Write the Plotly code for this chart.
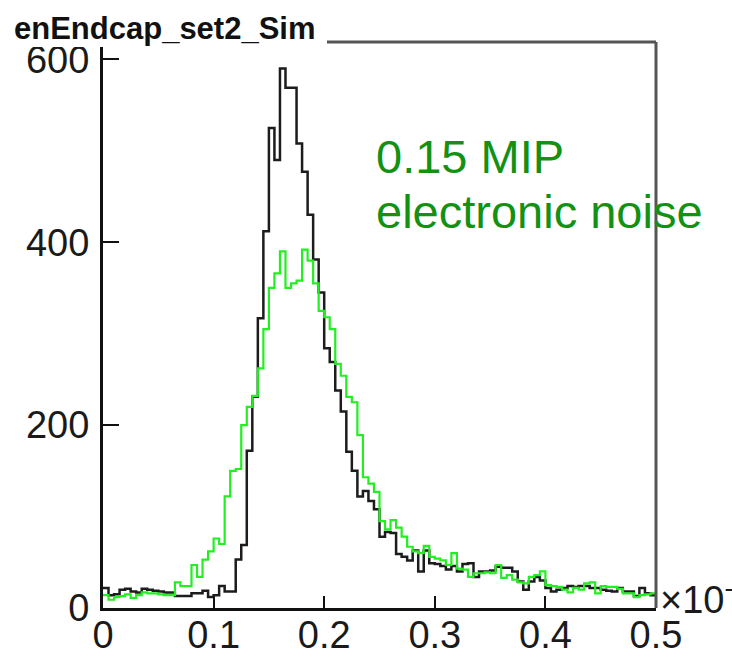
import numpy as np
import plotly.graph_objects as go

# ---- data ----
x_lo, x_hi, n_bins = 0.0, 0.5, 100

black_counts = [22, 14, 15, 20, 21, 18, 17, 21, 20, 19,
                18, 17, 17, 13, 13, 13, 16, 16, 19, 12,
                14, 24, 18, 18, 53, 69, 172, 231, 317, 412,
                525, 490, 590, 569, 569, 508, 477, 430, 381, 345,
                284, 269, 238, 215, 171, 150, 122, 128, 117, 108,
                78, 83, 82, 59, 56, 52, 63, 40, 63, 49,
                48, 46, 42, 46, 40, 48, 49, 34, 40, 40,
                41, 45, 44, 44, 40, 29, 20, 29, 34, 30,
                22, 18, 20, 22, 24, 23, 24, 24, 22, 22,
                20, 19, 18, 22, 18, 18, 13, 22, 16, 14]

green_counts = [14, 9, 12, 13, 15, 11, 14, 17, 16, 16,
                15, 14, 14, 28, 24, 24, 47, 34, 53, 62,
                76, 70, 122, 150, 152, 200, 220, 232, 262, 305,
                350, 366, 390, 350, 355, 358, 392, 380, 355, 325,
                318, 305, 267, 254, 231, 225, 189, 143, 136, 127,
                95, 86, 96, 88, 78, 67, 62, 60, 68, 56,
                54, 52, 47, 60, 43, 42, 34, 38, 38, 39,
                38, 47, 33, 36, 31, 28, 27, 34, 36, 40,
                25, 24, 23, 20, 17, 22, 20, 27, 28, 16,
                24, 23, 23, 21, 16, 16, 12, 14, 15, 16]

x_tick_vals = [0, 0.1, 0.2, 0.3, 0.4, 0.5]
x_tick_text = ["0", "0.1", "0.2", "0.3", "0.4", "0.5"]
y_tick_vals = [0, 200, 400, 600]
y_tick_text = ["0", "200", "400", "600"]
y_max = 619

title_text = "enEndcap_set2_Sim"
note_line1 = "0.15 MIP"
note_line2 = "electronic noise"

# ---- figure ----
edges = np.linspace(x_lo, x_hi, n_bins + 1)

def step_y(vals):
    return list(vals) + [vals[-1]]

W, H = 732, 660
L, R, T, B = 103, 76, 42, 52
pw, ph = W - L - R, H - T - B

def px(x):
    return (x - L) / pw

def py(y):
    return (H - B - y) / ph

fig = go.Figure()
fig.add_trace(go.Scatter(x=edges, y=step_y(black_counts), mode="lines",
                         line=dict(shape="hv", color="#1c1c1c", width=2.5),
                         showlegend=False))
fig.add_trace(go.Scatter(x=edges, y=step_y(green_counts), mode="lines",
                         line=dict(shape="hv", color="#22ee22", width=2.2),
                         showlegend=False))

tickfont = dict(family="Liberation Sans, Arial, sans-serif", size=38, color="#1a1a1a")

fig.update_layout(
    width=W, height=H,
    margin=dict(l=L, r=R, t=T, b=B, autoexpand=False),
    paper_bgcolor="white", plot_bgcolor="white",
    xaxis=dict(range=[x_lo, x_hi], showgrid=False, zeroline=False, automargin=False,
               showline=True, linecolor="#111", linewidth=3,
               ticks="inside", ticklen=12, tickwidth=2, tickcolor="#111",
               tickvals=x_tick_vals, ticktext=x_tick_text, tickfont=tickfont,
               ticklabelstandoff=-9),
    yaxis=dict(range=[0, y_max], showgrid=False, zeroline=False, automargin=False,
               showline=True, linecolor="#111", linewidth=3,
               ticks="inside", ticklen=16, tickwidth=2, tickcolor="#111",
               tickvals=y_tick_vals, ticktext=y_tick_text, tickfont=tickfont,
               ticklabelstandoff=3),
    shapes=[
        dict(type="line", xref="paper", yref="paper", x0=0, x1=1, y0=1, y1=1,
             line=dict(color="#555", width=3), layer="above"),
        dict(type="line", xref="paper", yref="paper", x0=1, x1=1, y0=0, y1=1,
             line=dict(color="#555", width=3), layer="above"),
        dict(type="rect", xref="paper", yref="paper",
             x0=px(0), x1=px(327), y0=py(47), y1=py(0),
             fillcolor="white", line=dict(width=0), layer="above"),
    ],
    annotations=[
        dict(text="<b>" + title_text + "</b>", xref="paper", yref="paper",
             x=px(12), y=py(28), xanchor="left", yanchor="middle", showarrow=False,
             font=dict(family="Liberation Sans, Arial, sans-serif", size=31, color="#111")),
        dict(text=note_line1, xref="paper", yref="paper",
             x=px(374), y=py(156), xanchor="left", yanchor="middle", showarrow=False,
             font=dict(family="Liberation Sans, Arial, sans-serif", size=47, color="#139113")),
        dict(text=note_line2, xref="paper", yref="paper",
             x=px(374), y=py(211), xanchor="left", yanchor="middle", showarrow=False,
             font=dict(family="Liberation Sans, Arial, sans-serif", size=47, color="#139113")),
        dict(text="×10<sup>-</sup>", xref="paper", yref="paper",
             x=px(658), y=py(597), xanchor="left", yanchor="middle", showarrow=False,
             font=dict(family="Liberation Sans, Arial, sans-serif", size=38, color="#1a1a1a")),
    ],
)

fig.write_html("out.html")
